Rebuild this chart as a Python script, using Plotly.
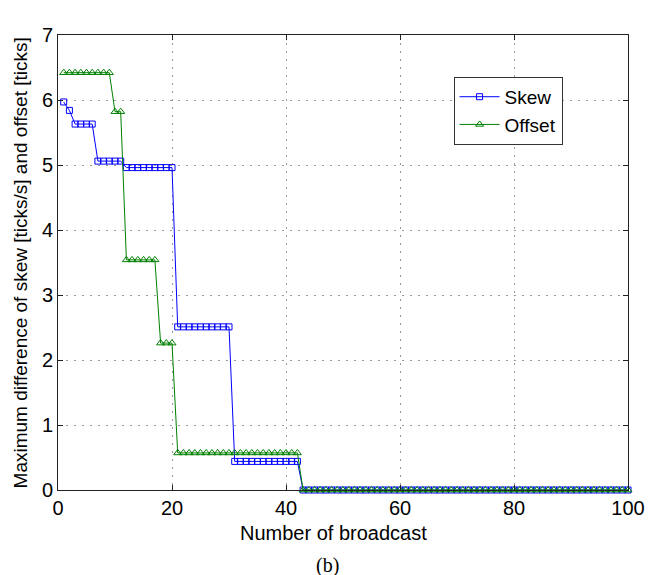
import plotly.graph_objects as go

# Broadcast index
broadcast = list(range(1, 101))

# Maximum skew difference [ticks/s] after each broadcast
skew = [5.97, 5.84, 5.63, 5.63, 5.63, 5.63, 5.06, 5.06, 5.06, 5.06,
        5.06, 4.96, 4.96, 4.96, 4.96, 4.96, 4.96, 4.96, 4.96, 4.96,
        2.51, 2.51, 2.51, 2.51, 2.51, 2.51, 2.51, 2.51, 2.51, 2.51,
        0.44, 0.44, 0.44, 0.44, 0.44, 0.44, 0.44, 0.44, 0.44, 0.44,
        0.44, 0.44, 0.0, 0.0, 0.0, 0.0, 0.0, 0.0, 0.0, 0.0,
        0.0, 0.0, 0.0, 0.0, 0.0, 0.0, 0.0, 0.0, 0.0, 0.0,
        0.0, 0.0, 0.0, 0.0, 0.0, 0.0, 0.0, 0.0, 0.0, 0.0,
        0.0, 0.0, 0.0, 0.0, 0.0, 0.0, 0.0, 0.0, 0.0, 0.0,
        0.0, 0.0, 0.0, 0.0, 0.0, 0.0, 0.0, 0.0, 0.0, 0.0,
        0.0, 0.0, 0.0, 0.0, 0.0, 0.0, 0.0, 0.0, 0.0, 0.0]

# Maximum offset difference [ticks] after each broadcast
offset = [6.42, 6.42, 6.42, 6.42, 6.42, 6.42, 6.42, 6.42, 6.42, 5.82,
          5.82, 3.54, 3.54, 3.54, 3.54, 3.54, 3.54, 2.26, 2.26, 2.26,
          0.57, 0.57, 0.57, 0.57, 0.57, 0.57, 0.57, 0.57, 0.57, 0.57,
          0.57, 0.57, 0.57, 0.57, 0.57, 0.57, 0.57, 0.57, 0.57, 0.57,
          0.57, 0.57, 0.0, 0.0, 0.0, 0.0, 0.0, 0.0, 0.0, 0.0,
          0.0, 0.0, 0.0, 0.0, 0.0, 0.0, 0.0, 0.0, 0.0, 0.0,
          0.0, 0.0, 0.0, 0.0, 0.0, 0.0, 0.0, 0.0, 0.0, 0.0,
          0.0, 0.0, 0.0, 0.0, 0.0, 0.0, 0.0, 0.0, 0.0, 0.0,
          0.0, 0.0, 0.0, 0.0, 0.0, 0.0, 0.0, 0.0, 0.0, 0.0,
          0.0, 0.0, 0.0, 0.0, 0.0, 0.0, 0.0, 0.0, 0.0, 0.0]

x_ticks = [0, 20, 40, 60, 80, 100]
y_ticks = [0, 1, 2, 3, 4, 5, 6, 7]

FONT = "Liberation Sans, Arial, sans-serif"

fig = go.Figure()
fig.add_trace(go.Scatter(
    x=broadcast, y=skew, name="Skew", mode="lines+markers",
    line=dict(color="#0000ff", width=1),
    marker=dict(symbol="square-open", size=6, color="#0000ff",
                line=dict(width=1, color="#0000ff")),
    cliponaxis=False,
))
fig.add_trace(go.Scatter(
    x=broadcast, y=offset, name="Offset", mode="lines+markers",
    line=dict(color="#008000", width=1),
    marker=dict(symbol="triangle-up-open", size=7, color="#008000",
                line=dict(width=1, color="#008000")),
    cliponaxis=False,
))

axis_common = dict(
    showline=True, linecolor="#222222", linewidth=1, mirror="allticks",
    ticks="inside", ticklen=5, tickcolor="#222222", tickwidth=1,
    showgrid=True, gridcolor="#9a9a9a", gridwidth=1, griddash="2px,6px",
    zeroline=False, tickfont=dict(family=FONT, size=20, color="black"),
)

fig.update_xaxes(range=[0, 100], tickvals=x_ticks, **axis_common)
fig.update_yaxes(range=[0, 7], tickvals=y_ticks, **axis_common)

fig.update_layout(
    width=657, height=575,
    margin=dict(l=58, r=19, t=35, b=85),
    plot_bgcolor="white", paper_bgcolor="white",
    font=dict(family=FONT, size=20, color="black"),
    showlegend=True,
    legend=dict(
        x=0.694, y=0.908, xanchor="left", yanchor="top",
        bgcolor="white", bordercolor="#333333", borderwidth=1,
        font=dict(family=FONT, size=19, color="black"),
        tracegroupgap=0, itemwidth=40,
    ),
    annotations=[
        dict(text="Number of broadcast", xref="paper", yref="paper",
             x=0.484, y=-0.0945, xanchor="center", yanchor="middle",
             showarrow=False, font=dict(family=FONT, size=20)),
        dict(text="Maximum difference of skew [ticks/s] and offset [ticks]",
             xref="paper", yref="paper", x=-0.065, y=0.5,
             xanchor="center", yanchor="middle", textangle=-90,
             showarrow=False, font=dict(family=FONT, size=19)),
        dict(text="(b)", xref="paper", yref="paper",
             x=0.473, y=-0.165, xanchor="center", yanchor="middle",
             showarrow=False,
             font=dict(family="Liberation Serif, Times New Roman, serif", size=20)),
    ],
)

fig.write_html("out.html")
